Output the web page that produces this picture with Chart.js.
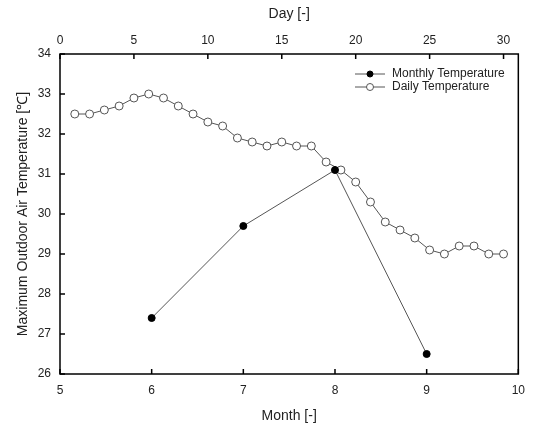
<!DOCTYPE html>
<html>
<head>
<meta charset="utf-8">
<script src="https://cdn.jsdelivr.net/npm/chart.js@4/dist/chart.umd.min.js"></script>
<style>
  html, body { margin: 0; padding: 0; background: #fff; }
  #wrap { width: 534px; height: 425px; position: relative; }
</style>
</head>
<body>
<div id="wrap"><canvas id="chart"></canvas></div>
<script>
// data
var months = [6, 7, 8, 9];
var monthlyTemp = [27.4, 29.7, 31.1, 26.5];
var days = [1, 2, 3, 4, 5, 6, 7, 8, 9, 10, 11, 12, 13, 14, 15,
            16, 17, 18, 19, 20, 21, 22, 23, 24, 25, 26, 27, 28, 29, 30];
var dailyTemp = [32.5, 32.5, 32.6, 32.7, 32.9, 33.0, 32.9, 32.7, 32.5, 32.3,
                 32.2, 31.9, 31.8, 31.7, 31.8, 31.7, 31.7, 31.3, 31.1, 30.8,
                 30.3, 29.8, 29.6, 29.4, 29.1, 29.0, 29.2, 29.2, 29.0, 29.0];
var monthTicks = [5, 6, 7, 8, 9, 10];
var dayTicks = [0, 5, 10, 15, 20, 25, 30];
var tempTicks = [26, 27, 28, 29, 30, 31, 32, 33, 34];

var FONT = "'Liberation Sans', Arial, sans-serif";
var TXT = "#222";

// frame + inward ticks + legend
var framePlugin = {
  id: "frame",
  afterDraw: function (chart) {
    var ctx = chart.ctx, a = chart.chartArea;
    var sx = chart.scales.x, sx2 = chart.scales.x2, sy = chart.scales.y;
    ctx.save();
    ctx.strokeStyle = "#000";
    ctx.lineWidth = 1.5;
    ctx.strokeRect(a.left, a.top, a.right - a.left, a.bottom - a.top);
    ctx.beginPath();
    monthTicks.forEach(function (v) {
      var px = sx.getPixelForValue(v);
      ctx.moveTo(px, a.bottom); ctx.lineTo(px, a.bottom - 5);
    });
    dayTicks.forEach(function (v) {
      var px = sx2.getPixelForValue(v);
      ctx.moveTo(px, a.top); ctx.lineTo(px, a.top + 5);
    });
    tempTicks.forEach(function (v) {
      var py = sy.getPixelForValue(v);
      ctx.moveTo(a.left, py); ctx.lineTo(a.left + 5, py);
    });
    ctx.stroke();

    // legend
    var lx = 355, ly = [74, 87];
    var names = ["Monthly Temperature", "Daily Temperature"];
    ctx.font = "12px " + FONT;
    ctx.textBaseline = "middle";
    ctx.textAlign = "left";
    for (var i = 0; i < 2; i++) {
      ctx.strokeStyle = "#555";
      ctx.lineWidth = 1;
      ctx.beginPath();
      ctx.moveTo(lx, ly[i]); ctx.lineTo(lx + 30, ly[i]);
      ctx.stroke();
      ctx.beginPath();
      ctx.arc(lx + 15, ly[i], i === 0 ? 3 : 3.5, 0, Math.PI * 2);
      ctx.fillStyle = i === 0 ? "#000" : "#fff";
      ctx.fill();
      ctx.strokeStyle = i === 0 ? "#000" : "#555";
      ctx.stroke();
      ctx.fillStyle = TXT;
      ctx.fillText(names[i], lx + 37, ly[i]);
    }
    ctx.restore();
  }
};

new Chart(document.getElementById("chart"), {
  type: "line",
  data: {
    datasets: [
      {
        label: "Monthly Temperature",
        data: months.map(function (m, i) { return { x: m, y: monthlyTemp[i] }; }),
        xAxisID: "x",
        borderColor: "#555",
        borderWidth: 1,
        pointRadius: 3.5,
        pointBackgroundColor: "#000",
        pointBorderColor: "#000",
        pointBorderWidth: 1
      },
      {
        label: "Daily Temperature",
        data: days.map(function (d, i) { return { x: d, y: dailyTemp[i] }; }),
        xAxisID: "x2",
        borderColor: "#555",
        borderWidth: 1,
        pointRadius: 4,
        pointBackgroundColor: "#fff",
        pointBorderColor: "#555",
        pointBorderWidth: 1
      }
    ]
  },
  options: {
    responsive: true,
    maintainAspectRatio: false,
    animation: false,
    layout: { padding: { left: 0, right: 13, top: 0, bottom: 0 } },
    plugins: { legend: { display: false }, tooltip: { enabled: false } },
    scales: {
      x: {
        type: "linear",
        position: "bottom",
        min: 5, max: 10,
        afterBuildTicks: function (s) { s.ticks = monthTicks.map(function (v) { return { value: v }; }); },
        afterFit: function (s) { s.height = 51; },
        grid: { display: false, drawTicks: false },
        border: { display: false },
        ticks: { color: TXT, font: { family: FONT, size: 12 }, padding: 9, maxRotation: 0 },
        title: { display: true, text: "Month [-]", color: TXT, font: { family: FONT, size: 14 }, padding: { top: 0, bottom: 0 } }
      },
      x2: {
        type: "linear",
        position: "top",
        min: 0, max: 31,
        afterBuildTicks: function (s) { s.ticks = dayTicks.map(function (v) { return { value: v }; }); },
        afterFit: function (s) { s.height = 54; },
        grid: { display: false, drawTicks: false },
        border: { display: false },
        ticks: { color: TXT, font: { family: FONT, size: 12 }, padding: 6, maxRotation: 0 },
        title: { display: true, text: "Day [-]", color: TXT, font: { family: FONT, size: 14 }, padding: { top: 6, bottom: 0 } }
      },
      y: {
        type: "linear",
        min: 26, max: 34,
        afterBuildTicks: function (s) { s.ticks = tempTicks.map(function (v) { return { value: v }; }); },
        afterFit: function (s) { s.width = 60; },
        grid: { display: false, drawTicks: false },
        border: { display: false },
        ticks: { color: TXT, font: { family: FONT, size: 12 }, padding: 9 },
        title: { display: true, text: "Maximum Outdoor Air Temperature [℃]", color: TXT, font: { family: FONT, size: 14 }, padding: { top: 15, bottom: 0 } }
      }
    }
  },
  plugins: [framePlugin]
});
</script>
</body>
</html>
